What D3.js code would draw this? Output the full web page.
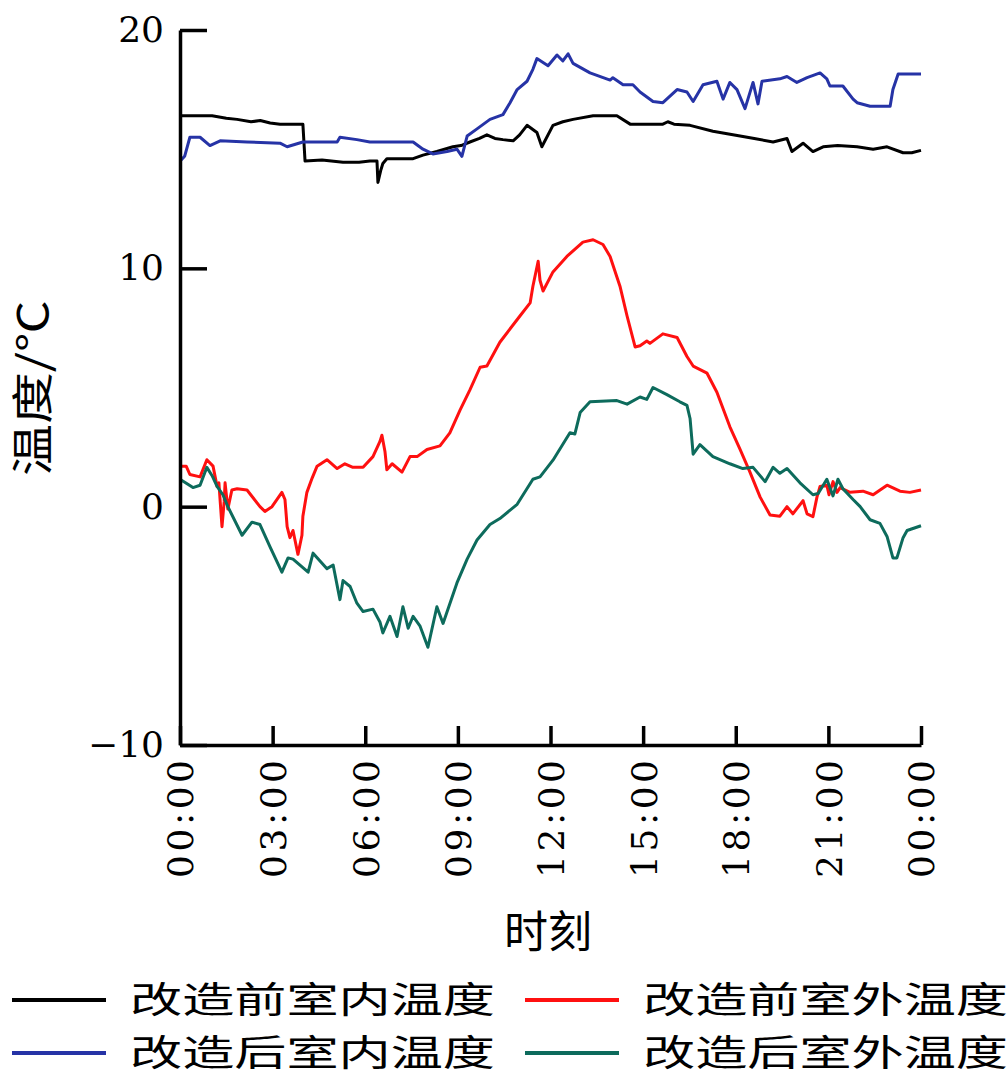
<!DOCTYPE html>
<html>
<head>
<meta charset="utf-8">
<script src="https://cdn.jsdelivr.net/npm/d3@7"></script>
<style>
  body { margin: 0; background: #fff; }
  svg { display: block; }
</style>
</head>
<body>
<svg id="chart" width="1008" height="1086"></svg>
<script>
// 改造前室内温度
const hoursBeforeIn = [0, 0.4, 1.04, 1.5, 1.85, 2.3, 2.6, 2.92, 3.24, 3.98, 4.05, 4.6, 5.28, 5.8, 6.15, 6.38, 6.41, 6.5, 6.57, 6.7, 7.1, 7.55, 7.87, 8.32, 8.84, 9.1, 9.39, 9.7, 9.94, 10.2, 10.46, 10.79, 11.0, 11.24, 11.56, 11.72, 12.08, 12.4, 12.73, 13.38, 14.15, 14.58, 15.1, 15.64, 15.8, 16.0, 16.52, 17.26, 18.14, 18.6, 19.21, 19.66, 19.82, 20.18, 20.5, 20.83, 21.3, 21.93, 22.45, 22.9, 23.42, 23.7, 24];
const tempBeforeIn  = [16.4, 16.4, 16.4, 16.3, 16.25, 16.15, 16.2, 16.1, 16.05, 16.05, 14.5, 14.55, 14.45, 14.45, 14.5, 14.5, 13.6, 14.1, 14.4, 14.6, 14.6, 14.6, 14.75, 14.9, 15.1, 15.15, 15.3, 15.45, 15.6, 15.45, 15.4, 15.35, 15.6, 16.0, 15.7, 15.1, 16.0, 16.15, 16.25, 16.4, 16.4, 16.05, 16.05, 16.05, 16.15, 16.05, 16.0, 15.75, 15.55, 15.45, 15.3, 15.45, 14.9, 15.25, 14.9, 15.1, 15.15, 15.1, 15.0, 15.1, 14.85, 14.85, 14.95];

// 改造后室内温度
const hoursAfterIn = [0, 0.15, 0.32, 0.65, 0.97, 1.3, 2.17, 3.24, 3.47, 3.98, 5.09, 5.18, 5.73, 6.15, 7.55, 7.87, 8.19, 8.65, 8.97, 9.13, 9.3, 9.62, 10.04, 10.46, 10.69, 10.92, 11.24, 11.43, 11.56, 11.92, 12.21, 12.4, 12.57, 12.73, 13.28, 13.93, 14.02, 14.35, 14.67, 14.9, 15.32, 15.64, 16.1, 16.42, 16.62, 16.94, 17.39, 17.59, 17.81, 18.04, 18.3, 18.56, 18.72, 18.85, 19.43, 19.66, 19.98, 20.31, 20.73, 20.95, 21.05, 21.47, 21.8, 21.93, 22.35, 23.0, 23.09, 23.26, 24];
const tempAfterIn  = [14.5, 14.7, 15.5, 15.5, 15.15, 15.35, 15.3, 15.25, 15.1, 15.3, 15.3, 15.5, 15.4, 15.3, 15.3, 15.0, 14.8, 14.9, 15.0, 14.7, 15.55, 15.85, 16.25, 16.45, 16.95, 17.5, 17.85, 18.35, 18.8, 18.5, 18.95, 18.7, 19.0, 18.6, 18.2, 17.9, 18.0, 17.7, 17.7, 17.4, 17.0, 16.95, 17.5, 17.4, 17.0, 17.7, 17.85, 17.1, 17.8, 17.5, 16.7, 17.8, 16.9, 17.85, 17.95, 18.05, 17.8, 18.0, 18.2, 17.95, 17.65, 17.65, 17.1, 16.95, 16.8, 16.8, 17.5, 18.15, 18.15];

// 改造前室外温度
const hoursBeforeOut = [0, 0.2, 0.32, 0.65, 0.87, 1.07, 1.2, 1.26, 1.36, 1.43, 1.46, 1.55, 1.68, 1.85, 2.17, 2.59, 2.75, 2.98, 3.3, 3.4, 3.47, 3.56, 3.66, 3.82, 3.95, 3.98, 4.11, 4.28, 4.44, 4.76, 5.09, 5.34, 5.6, 5.93, 6.25, 6.48, 6.54, 6.64, 6.7, 6.87, 7.19, 7.45, 7.68, 8.0, 8.42, 8.74, 9.07, 9.39, 9.72, 9.94, 10.36, 11.01, 11.34, 11.43, 11.6, 11.66, 11.76, 12.08, 12.53, 13.05, 13.38, 13.7, 13.93, 14.25, 14.48, 14.74, 14.9, 15.12, 15.22, 15.64, 16.1, 16.42, 16.62, 17.07, 17.39, 17.81, 18.14, 18.46, 18.79, 19.11, 19.43, 19.66, 19.85, 20.18, 20.31, 20.5, 20.63, 20.73, 20.95, 21.02, 21.15, 21.28, 21.38, 21.7, 22.12, 22.45, 22.9, 23.32, 23.64, 24];
const tempBeforeOut  = [1.7, 1.7, 1.35, 1.25, 1.97, 1.7, 0.85, 1.0, -0.84, 0.2, 1.0, -0.1, 0.7, 0.75, 0.7, 0.0, -0.2, 0.0, 0.6, 0.3, -0.84, -1.3, -1.0, -2.0, -1.2, -0.4, 0.6, 1.2, 1.7, 1.97, 1.6, 1.8, 1.65, 1.65, 2.1, 2.75, 3.0, 2.3, 1.55, 1.8, 1.45, 2.1, 2.1, 2.4, 2.55, 3.1, 4.05, 4.9, 5.85, 5.9, 6.9, 8.0, 8.55, 9.25, 10.3, 9.5, 9.05, 9.85, 10.5, 11.1, 11.2, 11.0, 10.5, 9.25, 8.0, 6.7, 6.75, 6.95, 6.85, 7.25, 7.1, 6.3, 5.9, 5.6, 4.8, 3.35, 2.4, 1.45, 0.4, -0.35, -0.4, 0.0, -0.3, 0.25, -0.3, -0.42, 0.4, 0.85, 0.9, 0.5, 1.05, 0.6, 0.8, 0.6, 0.65, 0.5, 0.9, 0.65, 0.6, 0.7];

// 改造后室外温度
const hoursAfterOut = [0, 0.42, 0.65, 0.87, 1.04, 1.2, 1.39, 1.55, 2.01, 2.33, 2.59, 2.92, 3.3, 3.5, 3.66, 4.15, 4.31, 4.76, 4.96, 5.18, 5.28, 5.51, 5.73, 5.93, 6.25, 6.48, 6.57, 6.8, 7.03, 7.22, 7.39, 7.55, 7.77, 8.03, 8.32, 8.52, 8.97, 9.3, 9.62, 10.04, 10.36, 10.92, 11.43, 11.66, 12.08, 12.63, 12.79, 12.96, 13.28, 14.15, 14.48, 14.9, 15.12, 15.32, 15.77, 16.19, 16.42, 16.52, 16.62, 16.84, 17.26, 17.81, 18.23, 18.56, 18.95, 19.21, 19.43, 19.66, 20.08, 20.5, 20.67, 20.95, 21.15, 21.31, 21.47, 21.8, 22.03, 22.35, 22.67, 22.9, 23.09, 23.22, 23.42, 23.55, 24];
const tempAfterOut  = [1.15, 0.8, 0.9, 1.65, 1.3, 0.85, 0.5, 0.0, -1.2, -0.65, -0.75, -1.7, -2.75, -2.15, -2.2, -2.75, -1.95, -2.6, -2.45, -3.9, -3.1, -3.35, -4.05, -4.4, -4.3, -4.85, -5.3, -4.6, -5.45, -4.2, -5.1, -4.6, -5.0, -5.9, -4.2, -4.9, -3.2, -2.2, -1.4, -0.75, -0.5, 0.1, 1.15, 1.25, 1.95, 3.1, 3.05, 3.95, 4.4, 4.45, 4.3, 4.6, 4.5, 5.0, 4.7, 4.4, 4.25, 3.7, 2.2, 2.6, 2.1, 1.8, 1.6, 1.65, 1.05, 1.65, 1.4, 1.6, 1.0, 0.5, 0.55, 1.15, 0.45, 1.15, 0.75, 0.3, 0.0, -0.55, -0.7, -1.25, -2.15, -2.15, -1.3, -1.0, -0.8];

const yTicks = [-10, 0, 10, 20];
const xTicks = [0, 3, 6, 9, 12, 15, 18, 21, 24];
const xTickLabels = ['00:00', '03:00', '06:00', '09:00', '12:00', '15:00', '18:00', '21:00', '00:00'];
const seriesNames = ['改造前室内温度', '改造前室外温度', '改造后室内温度', '改造后室外温度'];

const svg = d3.select('#chart');
const x = d3.scaleLinear().domain([0, 24]).range([180, 921]);
const y = d3.scaleLinear().domain([-10, 20]).range([745, 30]);

const color = d3.scaleOrdinal()
  .domain(seriesNames)
  .range(['#000000', '#ff1010', '#2633a6', '#0d6b5c']);

const series = [
  { name: seriesNames[0], hours: hoursBeforeIn, temps: tempBeforeIn },
  { name: seriesNames[2], hours: hoursAfterIn, temps: tempAfterIn },
  { name: seriesNames[1], hours: hoursBeforeOut, temps: tempBeforeOut },
  { name: seriesNames[3], hours: hoursAfterOut, temps: tempAfterOut }
];

const line = d3.line()
  .x(d => x(d[0]))
  .y(d => y(d[1]));

// lines first, axes drawn on top
svg.append('g')
  .selectAll('path')
  .data(series)
  .enter()
  .append('path')
  .attr('fill', 'none')
  .attr('stroke', d => color(d.name))
  .attr('stroke-width', 3)
  .attr('stroke-linejoin', 'round')
  .attr('d', d => line(d.hours.map((h, i) => [h, d.temps[i]])));

// y axis
const yAxis = svg.append('g')
  .attr('transform', 'translate(180,0)')
  .call(d3.axisLeft(y).tickValues(yTicks).tickSize(-27).tickSizeOuter(0).tickPadding(16));
yAxis.selectAll('path, line').attr('stroke', '#000').attr('stroke-width', 3.5);
yAxis.selectAll('text')
  .style('font-family', '"DejaVu Serif", "Liberation Serif", serif')
  .style('font-size', '36px')
  .attr('fill', '#000');

// x axis
const xAxis = svg.append('g')
  .attr('transform', 'translate(0,745)')
  .call(d3.axisBottom(x).tickValues(xTicks).tickSize(-19).tickSizeOuter(0).tickFormat(''));
xAxis.selectAll('path, line').attr('stroke', '#000').attr('stroke-width', 3.5);
xAxis.selectAll('.tick text').remove();
xAxis.selectAll('.tick')
  .append('text')
  .attr('transform', 'rotate(-90)')
  .attr('x', -15)
  .attr('dy', '0.36em')
  .attr('text-anchor', 'end')
  .attr('textLength', 118)
  .attr('lengthAdjust', 'spacing')
  .style('font-family', '"DejaVu Serif", "Liberation Serif", serif')
  .style('font-size', '36px')
  .attr('fill', '#000')
  .text((d, i) => xTickLabels[i]);

// axis titles
svg.append('text')
  .attr('transform', 'translate(48,388) rotate(-90)')
  .attr('text-anchor', 'middle')
  .attr('textLength', 176)
  .attr('lengthAdjust', 'spacingAndGlyphs')
  .style('font-family', '"Noto Sans CJK SC", sans-serif')
  .style('font-size', '42px')
  .text('温度/℃');

svg.append('text')
  .attr('x', 548)
  .attr('y', 948)
  .attr('text-anchor', 'middle')
  .style('font-family', '"Noto Sans CJK SC", sans-serif')
  .style('font-size', '44px')
  .text('时刻');

// legend, two columns
const LEGEND_COL_X = [12, 525];
const LEGEND_ROW_Y = [1000, 1053];
const LEGEND_LINE_W = 94;

const legendItem = svg.append('g')
  .selectAll('g')
  .data(seriesNames)
  .enter()
  .append('g')
  .attr('transform', (d, i) => 'translate(' + LEGEND_COL_X[i % 2] + ',' + LEGEND_ROW_Y[Math.floor(i / 2)] + ')');

legendItem.append('line')
  .attr('x1', 0)
  .attr('x2', LEGEND_LINE_W)
  .attr('stroke', d => color(d))
  .attr('stroke-width', 4);

legendItem.append('text')
  .attr('x', 118)
  .attr('dy', '0.36em')
  .attr('textLength', 365)
  .attr('lengthAdjust', 'spacingAndGlyphs')
  .style('font-family', '"Noto Sans CJK SC", sans-serif')
  .style('font-size', '36px')
  .text(d => d);
</script>
</body>
</html>
